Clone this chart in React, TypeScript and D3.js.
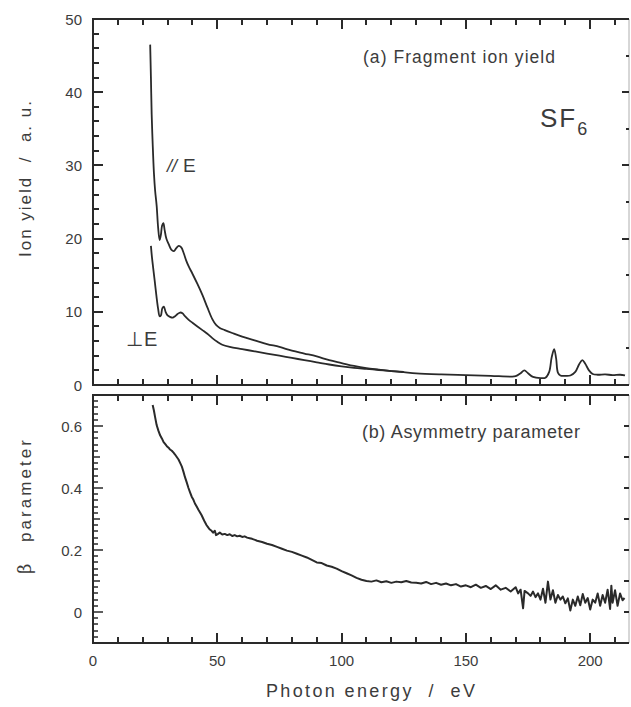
import React from "react";
import * as d3 from "d3";

// ---------- data ----------
const parallelE = [23.0, 23.3, 23.6, 24.0, 24.5, 25.0, 25.6, 26.2, 26.8, 27.3, 27.8, 28.3, 28.8, 29.5, 30.5, 31.5, 32.5, 33.5, 34.5, 35.5, 36.5, 37.5, 38.5, 40, 42, 44, 46, 48, 49.5, 51, 53, 56, 60, 65, 70, 75, 80, 85, 90, 95, 100, 105, 110, 115, 120, 125, 130, 140, 150, 160, 168, 170, 172, 173.5, 175, 177, 180, 182, 183.5, 184.5, 185.5, 186.3, 187, 188, 190, 192, 194, 195.5, 196.8, 198, 199.5, 201, 203, 206, 209, 212, 214];
const parallelY = [46.5, 42, 37, 33, 29, 26.5, 24.5, 21.5, 19.8, 20.5, 21.8, 22.1, 21.2, 20.0, 19.2, 18.5, 18.3, 18.7, 19.0, 18.8, 18.0, 17.0, 16.2, 15.2, 13.8, 12.3, 10.6, 9.0, 8.2, 7.8, 7.5, 7.1, 6.6, 6.1, 5.6, 5.2, 4.7, 4.3, 3.9, 3.4, 3.0, 2.6, 2.3, 2.1, 1.9, 1.75, 1.6, 1.45, 1.35, 1.25, 1.15, 1.2, 1.6, 2.0, 1.6, 1.1, 0.95, 1.0, 1.8, 3.8, 4.9, 3.6, 1.7, 1.3, 1.25, 1.3, 1.8, 2.8, 3.4, 2.9, 2.0, 1.5, 1.4, 1.45, 1.35, 1.4, 1.3];

const perpE = [23.3, 23.7, 24.2, 24.8, 25.5, 26.2, 26.8, 27.3, 27.9, 28.5, 29.2, 30.0, 31.0, 32.0, 33.0, 34.0, 35.0, 36.0, 37.0, 38.5, 40, 42, 44, 46, 48, 50, 52, 55, 60, 65, 70, 75, 80, 85, 90, 95, 100, 105, 110, 115, 120, 125];
const perpY = [19.0, 17.5, 16.0, 14.3, 12.2, 10.4, 9.4, 9.5, 10.5, 10.7, 10.0, 9.5, 9.3, 9.2, 9.4, 9.7, 9.9, 9.8, 9.4, 8.9, 8.5, 8.0, 7.5, 7.0, 6.4, 5.9, 5.5, 5.2, 4.9, 4.6, 4.3, 4.0, 3.7, 3.4, 3.1, 2.8, 2.55, 2.35, 2.2, 2.05, 1.9, 1.78];

const betaE = [24, 24.5, 25, 25.6, 26.3, 27, 27.7, 28.4, 29, 29.7, 30.4, 31, 31.7, 32.4, 33, 33.7, 34.4, 35, 35.7, 36.4, 37, 37.7, 38.4, 39, 39.7, 40.4, 41, 41.7, 42.4, 43, 43.7, 44.4, 45, 45.7, 46.4, 47, 47.7, 48.3, 49, 49.5, 50.3, 51, 52, 53, 54, 55, 56, 57, 58, 59, 60, 61, 62, 63, 64, 66, 68, 70, 72, 74, 76, 78, 80, 82, 84, 86, 88, 90, 92, 94, 96, 98, 100, 102, 104, 106, 108, 110, 112, 114, 116, 118, 120, 122, 124, 126, 128, 130, 132, 134, 136, 138, 140, 142, 144, 146, 148, 150, 152, 154, 156, 158, 160, 162, 164, 166, 168, 170, 171, 172, 173, 173.6, 175, 176, 177, 178, 179, 180, 181, 182, 183, 184, 185, 186, 187, 188, 189, 190, 191, 192, 193, 194, 195, 196, 197, 198, 199, 200, 201, 202, 203, 204, 205, 206, 207, 208, 208.5, 209, 210, 211, 212, 213, 213.8];
const betaY = [0.668, 0.650, 0.628, 0.603, 0.585, 0.570, 0.560, 0.548, 0.542, 0.535, 0.530, 0.524, 0.520, 0.514, 0.508, 0.500, 0.492, 0.482, 0.470, 0.452, 0.435, 0.418, 0.400, 0.387, 0.372, 0.362, 0.350, 0.340, 0.330, 0.322, 0.312, 0.300, 0.290, 0.280, 0.272, 0.266, 0.262, 0.256, 0.262, 0.248, 0.252, 0.256, 0.250, 0.252, 0.248, 0.251, 0.245, 0.248, 0.244, 0.246, 0.242, 0.244, 0.240, 0.238, 0.236, 0.230, 0.226, 0.220, 0.216, 0.210, 0.204, 0.198, 0.194, 0.188, 0.182, 0.176, 0.168, 0.160, 0.158, 0.150, 0.146, 0.140, 0.132, 0.125, 0.118, 0.110, 0.104, 0.100, 0.098, 0.102, 0.096, 0.099, 0.094, 0.098, 0.096, 0.100, 0.095, 0.094, 0.092, 0.097, 0.090, 0.094, 0.088, 0.092, 0.086, 0.090, 0.082, 0.086, 0.080, 0.088, 0.078, 0.084, 0.074, 0.086, 0.072, 0.078, 0.066, 0.080, 0.060, 0.072, 0.012, 0.068, 0.060, 0.052, 0.066, 0.048, 0.060, 0.040, 0.075, 0.030, 0.098, 0.040, 0.070, 0.030, 0.055, 0.040, 0.050, 0.028, 0.044, 0.005, 0.040, 0.020, 0.050, 0.022, 0.058, 0.030, 0.045, 0.008, 0.040, 0.030, 0.060, 0.020, 0.055, 0.030, 0.072, 0.010, 0.085, 0.030, 0.070, 0.020, 0.060, 0.038, 0.045];

const xTickLabels = [0, 50, 100, 150, 200];
const yTopTickLabels = [0, 10, 20, 30, 40, 50];
const yBotTickLabels = [0, 0.2, 0.4, 0.6];

// ---------- layout ----------
const W = 631;
const H = 707;
const X0 = 93;
const X1 = 629;
const TOP_Y0 = 19;
const TOP_Y1 = 385;
const BOT_Y0 = 395;
const BOT_Y1 = 643;
const INK = "#2a2a2a";
const TXT = "#3c3c3c";
const FONT = "'Liberation Sans', Arial, sans-serif";

type Tick = { x: number; y: number; w: number; h: number };

export default function App() {
  const x = d3.scaleLinear().domain([0, 215.6]).range([X0, X1]);
  const yTop = d3.scaleLinear().domain([0, 50]).range([TOP_Y1, TOP_Y0]);
  const yBot = d3.scaleLinear().domain([-0.1, 0.7]).range([BOT_Y1, BOT_Y0]);

  const lineTop = d3
    .line<[number, number]>()
    .x((d) => x(d[0]))
    .y((d) => yTop(d[1]))
    .curve(d3.curveCatmullRom.alpha(0.5));
  const lineBot = d3
    .line<[number, number]>()
    .x((d) => x(d[0]))
    .y((d) => yBot(d[1]))
    .curve(d3.curveLinear);

  const par = parallelE.map((e, i) => [e, parallelY[i]] as [number, number]);
  const perp = perpE.map((e, i) => [e, perpY[i]] as [number, number]);
  const beta = betaE.map((e, i) => [e, betaY[i]] as [number, number]);

  const ticks: Tick[] = [];
  const xMinor = d3.range(0, 215, 10);
  const TW = 2;
  const addH = (yLine: number, dir: number) => {
    xMinor.forEach((v) => {
      const len = v % 50 === 0 ? 10 : 6;
      const px = Math.round(x(v));
      ticks.push({ x: px - TW / 2, y: dir > 0 ? yLine : yLine - len, w: TW, h: len });
    });
  };
  addH(TOP_Y0, 1);
  addH(TOP_Y1, -1);
  addH(BOT_Y0, 1);
  addH(BOT_Y1, -1);
  d3.range(0, 51, 2).forEach((v) => {
    const len = v % 10 === 0 ? 10 : 6;
    ticks.push({ x: X0, y: Math.round(yTop(v)) - TW / 2, w: len, h: TW });
  });
  d3.range(0, 51, 5).forEach((v) => {
    const len = v % 10 === 0 ? 7 : 3;
    ticks.push({ x: X1 - len, y: Math.round(yTop(v)) - TW / 2, w: len, h: TW });
  });
  d3.range(-5, 36, 1).forEach((k) => {
    const len = k % 10 === 0 ? 10 : k % 5 === 0 ? 7 : 5;
    ticks.push({ x: X0, y: Math.round(yBot(k * 0.02)) - 0.75, w: len, h: 1.5 });
  });
  d3.range(-1, 8, 1).forEach((k) => {
    ticks.push({ x: X1 - 5, y: Math.round(yBot(k * 0.1)) - TW / 2, w: 5, h: TW });
  });

  return (
    <svg
      width={W}
      height={H}
      style={{ position: "absolute", left: 0, top: 0, background: "#fff" }}
      fontFamily={FONT}
    >
      <rect x={0} y={0} width={W} height={H} fill="#fff" />

      {/* panel frames */}
      <g fill="none" stroke={INK} strokeWidth={2}>
        <path d={`M${X1},${TOP_Y0}H${X0}V${TOP_Y1}H${X1}`} />
        <path d={`M${X1},${BOT_Y0}H${X0}V${BOT_Y1}H${X1}`} />
      </g>
      <g fill="none" stroke="#9a9a9a" strokeWidth={0.8}>
        <path d={`M${X1},${TOP_Y0}V${TOP_Y1}`} />
        <path d={`M${X1},${BOT_Y0}V${BOT_Y1}`} />
      </g>

      {/* ticks */}
      <g fill={INK} stroke="none">
        {ticks.map((t, i) => (
          <rect key={"t" + i} x={t.x} y={t.y} width={t.w} height={t.h} />
        ))}
      </g>

      {/* tick labels */}
      <g fill={TXT} fontSize={15} textAnchor="end">
        {yTopTickLabels.map((v) => (
          <text key={"ytl" + v} x={X0 - 11} y={yTop(v) + 5.5}>
            {v}
          </text>
        ))}
        {yBotTickLabels.map((v) => (
          <text key={"ybl" + v} x={X0 - 11} y={yBot(v) + 5.5}>
            {v === 0 ? "0" : v.toFixed(1)}
          </text>
        ))}
      </g>
      <g fill={TXT} fontSize={15} textAnchor="middle">
        {xTickLabels.map((v) => (
          <text key={"xl" + v} x={x(v)} y={666}>
            {v}
          </text>
        ))}
      </g>

      {/* axis titles */}
      <text
        transform={`translate(31,257) rotate(-90)`}
        fontSize={17}
        fill={TXT}
        textLength={156}
        lengthAdjust="spacing"
      >
        {"Ion yield \u00a0/\u00a0 a. u."}
      </text>
      <text
        transform={`translate(31,574) rotate(-90)`}
        fontSize={18}
        fill={TXT}
        fontFamily="'DejaVu Serif', serif"
      >
        β
      </text>
      <text
        transform={`translate(31,542) rotate(-90)`}
        fontSize={17}
        fill={TXT}
        textLength={102}
        lengthAdjust="spacing"
      >
        parameter
      </text>
      <text
        x={266}
        y={697}
        fontSize={18}
        fill={TXT}
        textLength={209}
        lengthAdjust="spacing"
      >
        {"Photon energy \u00a0/\u00a0 eV"}
      </text>

      {/* annotations */}
      <text x={363} y={63} fontSize={17.5} fill={TXT} textLength={192} lengthAdjust="spacing">
        (a) Fragment ion yield
      </text>
      <text x={362} y={438} fontSize={18} fill={TXT} textLength={218} lengthAdjust="spacing">
        (b) Asymmetry parameter
      </text>
      <text x={540} y={127} fontSize={26} fill={TXT} letterSpacing={2}>
        SF
        <tspan fontSize={18} dy={8}>
          6
        </tspan>
      </text>
      <text x={167} y={172} fontSize={19} fill={TXT}>
        <tspan fontStyle="italic" fontSize={18}>//</tspan>
        <tspan dx={6}>E</tspan>
      </text>
      <text x={126} y={346} fontSize={20} fill={TXT}>
        ⊥<tspan dx={1}>E</tspan>
      </text>

      {/* data */}
      <path d={lineTop(par) || ""} fill="none" stroke={INK} strokeWidth={1.8} />
      <path d={lineTop(perp) || ""} fill="none" stroke={INK} strokeWidth={1.8} />
      <path d={lineBot(beta) || ""} fill="none" stroke={INK} strokeWidth={2} strokeLinejoin="round" />
    </svg>
  );
}
